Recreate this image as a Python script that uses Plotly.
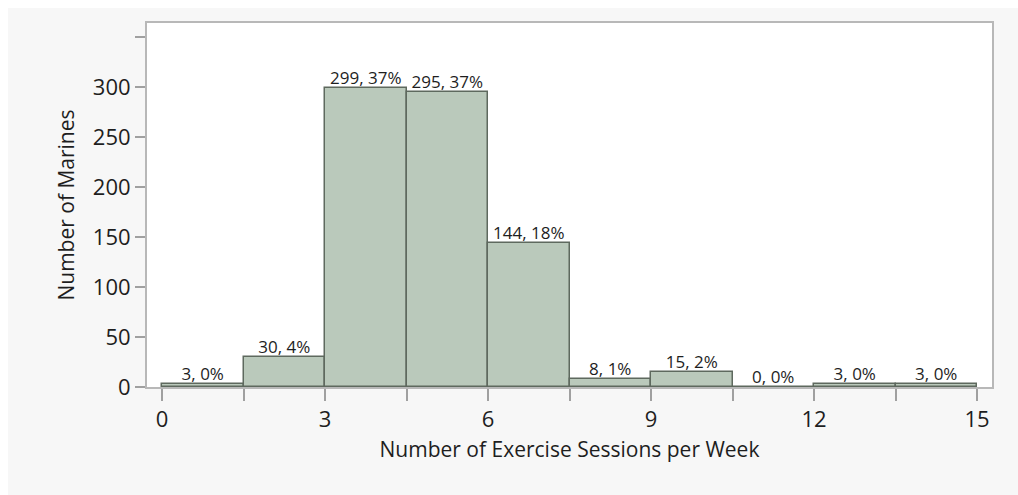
import plotly.graph_objects as go

bin_edges = [0, 1.5, 3, 4.5, 6, 7.5, 9, 10.5, 12, 13.5, 15]
counts = [3, 30, 299, 295, 144, 8, 15, 0, 3, 3]
x_tick_labels = ["0", "3", "6", "9", "12", "15"]
y_tick_vals = [0, 50, 100, 150, 200, 250, 300, 350]
y_tick_labels = ["0", "50", "100", "150", "200", "250", "300", ""]

total = sum(counts)
centers = [(a + b) / 2 for a, b in zip(bin_edges[:-1], bin_edges[1:])]
widths = [b - a for a, b in zip(bin_edges[:-1], bin_edges[1:])]
labels = [f"{c}, {round(c / total * 100)}%" for c in counts]

FONT = "Open Sans"
TXT = "#1e1e1e"
W, H = 1018, 495
L, R, T, B = 147, 26, 23, 108
PAD_L, PAD_T = 8, 8

fig = go.Figure()
fig.add_trace(go.Bar(
    x=centers, y=counts, width=widths,
    marker=dict(color="#bac9bb", line=dict(color="#5e695e", width=1.5)),
    hoverinfo="skip", showlegend=False,
))
fig.add_trace(go.Scatter(
    x=centers, y=counts, mode="text", text=labels,
    textposition="top center",
    textfont=dict(family=FONT, size=17, color=TXT),
    hoverinfo="skip", showlegend=False, cliponaxis=False,
))

label_iter = iter(x_tick_labels)
xt_text = [next(label_iter) if e % 3 == 0 else "" for e in bin_edges]

fig.update_xaxes(
    range=[-0.276, 15.276], tickvals=bin_edges, ticktext=xt_text,
    ticks="outside", ticklen=12, tickcolor="#a0a0a0", tickwidth=1.5,
    showline=True, linecolor="#b8b8b8", linewidth=2, mirror=True,
    showgrid=False, zeroline=False,
    tickfont=dict(family=FONT, size=22, color=TXT),
    title=dict(text="Number of Exercise Sessions per Week",
               font=dict(family=FONT, size=21, color=TXT), standoff=10),
    automargin=False,
)
fig.update_yaxes(
    range=[0, 364], tickvals=y_tick_vals, ticktext=y_tick_labels,
    ticks="outside", ticklen=10, tickcolor="#a0a0a0", tickwidth=1.5,
    showline=True, linecolor="#b8b8b8", linewidth=2, mirror=True,
    showgrid=False, zeroline=False,
    tickfont=dict(family=FONT, size=22, color=TXT),
    title=dict(text="Number of Marines",
               font=dict(family=FONT, size=21, color=TXT), standoff=12),
    automargin=False,
)

pw, ph = W - L - R, H - T - B
def px_x(p):
    return (p - L) / pw
def px_y(p):
    return (H - B - p) / ph

fig.update_layout(
    width=W, height=H,
    margin=dict(l=L, r=R, t=T, b=B, pad=0),
    paper_bgcolor="#f7f7f7", plot_bgcolor="#ffffff",
    bargap=0,
    hovermode=False,
    shapes=[
        dict(type="rect", xref="paper", yref="paper",
             x0=px_x(0), x1=px_x(PAD_L), y0=px_y(H), y1=px_y(0),
             fillcolor="#ffffff", line=dict(width=0), layer="below"),
        dict(type="rect", xref="paper", yref="paper",
             x0=px_x(0), x1=px_x(W), y0=px_y(PAD_T), y1=px_y(0),
             fillcolor="#ffffff", line=dict(width=0), layer="below"),
    ],
)

fig.write_html(
    "out.html",
    config={"displayModeBar": False},
    post_script="document.documentElement.style.overflow='hidden';"
                "document.documentElement.style.background='#f7f7f7';"
                "document.body.style.margin='0';"
                "document.body.style.overflow='hidden';",
)
